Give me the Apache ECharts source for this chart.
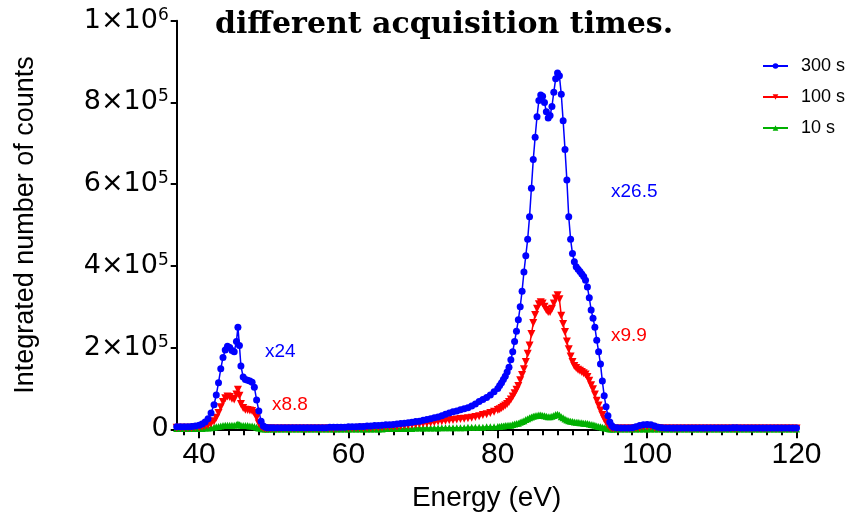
<!DOCTYPE html>
<html><head><meta charset="utf-8">
<script src="https://cdn.jsdelivr.net/npm/echarts@6/dist/echarts.min.js"></script>
<style>html,body{margin:0;padding:0;background:#fff}#c{width:850px;height:522px}</style>
</head><body><div id="c"></div>
<script>
// Energy grid (eV)
const energy = [
  37.0,37.5,38.0,38.5,39.0,39.5,40.0,40.4,40.8,41.2,41.6,42.0,42.3,42.6,42.9,43.2,43.5,43.8,44.1,44.4,44.7,45.0,45.2,45.4,45.6,45.9,46.2,46.5,46.8,47.1,47.4,47.7,48.0,48.3,48.6,48.9,49.2,49.6,
  50,50.5,51,51.5,52,52.5,53,53.5,54,54.5,55,55.5,56,56.5,57,57.5,58,58.5,59,59.5,60,60.5,61,61.5,62,62.5,63,63.5,64,64.5,65,65.5,66,66.5,67,67.5,68,68.5,69,69.5,70,70.5,71,71.5,72,72.5,73,73.5,74,74.5,75,75.5,76,76.5,77,77.5,78,78.5,79,79.5,
  80,80.25,80.5,80.75,81,81.25,81.5,81.75,82,82.25,82.5,82.75,83,83.25,83.5,83.75,84,84.25,84.5,84.75,85,85.25,85.5,85.75,86,86.25,86.5,86.75,87,87.25,87.5,87.75,88,88.25,88.5,88.75,89,89.25,89.5,89.75,90,90.25,90.5,90.75,91,91.25,91.5,91.75,92,92.25,92.5,92.75,93,93.25,93.5,93.75,94,94.25,94.5,94.75,95,95.25,95.5,
  96,96.5,97,97.5,98,98.5,99,99.5,100,100.5,101,101.5,102,102.5,103,103.5,104,104.5,105,105.5,106,106.5,107,107.5,108,108.5,109,109.5,110,110.5,111,111.5,112,112.5,113,113.5,114,114.5,115,115.5,116,116.5,117,117.5,118,118.5,119,119.5,120
];
// Integrated counts, in thousands
const counts300k = [
  6,6,6,6,7,8,10,13,18,26,40,60,84,114,148,176,194,203,200,193,190,215,250,205,155,128,122,120,118,115,103,72,45,20,8,5,4,4,
  4,4,4,4,4,4,4,4,4,4,4,4,4,4,4,5,5,5,5,5,6,6,6,7,7,8,8,9,9,10,11,11,12,13,14,15,16,17,19,20,22,24,26,28,30,33,37,40,43,45,48,50,53,57,62,68,73,78,84,92,
  100,107,114,122,130,140,152,170,190,215,240,268,300,338,385,425,465,520,590,660,715,765,805,818,815,800,777,762,768,790,825,858,872,865,820,755,685,610,520,465,430,410,398,392,386,380,374,365,348,322,292,272,250,218,190,160,118,82,55,33,18,9,5,
  4,3,3,3,4,6,9,11,12,11,8,5,4,3,3,3,3,3,3,3,3,3,3,3,3,3,3,3,3,3,3,4,4,3,3,3,3,3,3,3,3,3,3,3,3,3,3,3,3
];
const counts100k = [
  4,4,4,4,4,5,5,6,8,10,14,20,28,40,54,67,76,80,79,75,73,85,97,82,62,52,48,47,46,45,40,28,14,6,3,2,2,2,
  2,2,2,2,2,2,2,2,2,2,2,2,2,2,2,2,2,3,3,3,3,3,3,4,4,4,4,5,5,5,6,6,7,7,8,9,10,11,12,13,14,15,16,17,19,20,21,22,23,24,25,26,27,28,30,32,35,37,40,43,
  47,49,52,55,58,62,67,73,80,88,97,106,120,133,147,165,185,205,233,260,280,295,306,311,308,300,292,287,287,295,308,320,328,318,278,258,238,215,196,178,165,155,150,146,143,140,137,134,128,119,108,98,85,70,58,46,35,25,17,10,5,3,2,
  2,2,2,2,2,3,4,6,7,6,4,3,2,2,2,2,2,2,2,2,2,2,2,2,2,2,2,2,2,2,2,2,2,2,2,2,2,2,2,2,2,2,2,2,2,2,2,2,2
];
const counts10k = [
  2,2,2,2,2,2,2,2,3,3,4,5,6,7,8,9,10,10,10,10,10,11,13,11,10,9,9,9,8,8,7,5,3,2,1,1,1,1,
  1,1,1,1,1,1,1,1,1,1,1,1,1,1,1,1,1,1,1,1,1,1,1,1,1,1,1,1,1,1,2,2,2,2,2,2,2,2,3,3,3,3,3,3,3,4,4,4,4,4,4,4,5,5,5,5,5,6,6,6,
  7,7,8,8,9,9,10,10,12,13,14,15,17,19,21,24,26,28,30,32,33,34,35,35,34,33,32,31,31,32,34,36,37,35,31,28,25,23,21,20,19,18,17,17,16,16,15,15,14,13,12,11,10,8,7,6,5,4,3,2,1,1,1,
  1,1,1,1,1,1,1,1,1,1,1,1,1,1,1,1,1,1,1,1,1,1,1,1,1,1,1,1,1,1,1,1,1,1,1,1,1,1,1,1,1,1,1,1,1,1,1,1,1
];
const seriesNames = ['300 s','100 s','10 s'];
const xMajorTicks = [40,60,80,100,120];
const xAllTicks = [38,40,42,44,46,48,50,52,54,56,58,60,62,64,66,68,70,72,74,76,78,80,82,84,86,88,90,92,94,96,98,100,102,104,106,108,110,112,114,116,118,120];
const yTicks = [0,200000,400000,600000,800000,1000000];
const yTickBase = ['0','2×10','4×10','6×10','8×10','1×10'];
const yTickExp = ['','5','5','5','5','6'];
const titleText = 'different acquisition times.';
const xName = 'Energy (eV)';
const yName = 'Integrated number of counts';
const annoTexts = ['x24','x8.8','x26.5','x9.9'];

function pairs(vals){ return energy.map((e,i)=>[e, vals[i]*1000]); }

const chart = echarts.init(document.getElementById('c'), null, {renderer:'canvas'});
const font = 'Liberation Sans';
const annoPos = [[265,352,'#0000ff'],[272,405,'#ff0000'],[611,192,'#0000ff'],[611,336,'#ff0000']];
chart.setOption({
  animation:false,
  backgroundColor:'#fff',
  title:{text:titleText,left:215,top:10,padding:0,textStyle:{fontFamily:'DejaVu Serif',fontWeight:'bold',fontSize:30,color:'#000'}},
  legend:{orient:'vertical',left:762,top:57,padding:0,itemWidth:25,itemHeight:7,itemGap:13,
    data:seriesNames,textStyle:{fontFamily:font,fontSize:18,color:'#000',padding:[0,0,0,8]}},
  grid:{left:176.7,right:53.5,top:20.7,bottom:92.7,containLabel:false},
  xAxis:[{type:'value',min:37,max:120,position:'bottom',
      name:xName,nameLocation:'middle',nameGap:55,nameTextStyle:{fontFamily:font,fontSize:28,color:'#000'},
      axisLine:{show:true,lineStyle:{color:'#000',width:2}},
      axisTick:{show:true,inside:false,length:6,lineStyle:{color:'#000',width:2},customValues:xAllTicks},
      axisLabel:{show:true,margin:10,fontFamily:font,fontSize:30,color:'#000',customValues:xMajorTicks},
      splitLine:{show:false}},
    {type:'value',min:37,max:120,position:'bottom',
      axisLine:{show:true,lineStyle:{color:'rgba(0,0,0,0)',width:0}},
      axisTick:{show:true,inside:false,length:9,lineStyle:{color:'#000',width:2},customValues:xMajorTicks},
      axisLabel:{show:false},splitLine:{show:false}}],
  yAxis:{type:'value',min:0,max:1000000,interval:200000,
    name:yName,nameLocation:'middle',nameRotate:90,nameGap:138,nameTextStyle:{fontFamily:font,fontSize:27,color:'#000'},
    axisLine:{show:true,lineStyle:{color:'#000',width:2}},
    axisTick:{show:true,length:6,lineStyle:{color:'#000',width:2}},
    splitLine:{show:false},
    axisLabel:{margin:8,formatter:function(v){const i=yTicks.indexOf(v);if(i<0)return '';return yTickExp[i]?'{b|'+yTickBase[i]+'}{s|'+yTickExp[i]+'}':'{b|'+yTickBase[i]+'}';},
      rich:{b:{fontFamily:'DejaVu Sans',fontSize:27,color:'#000',lineHeight:28},s:{fontFamily:'DejaVu Sans',fontSize:17,color:'#000',verticalAlign:'top',lineHeight:28}}}},
  graphic:annoTexts.map((t,i)=>({type:'text',style:{x:annoPos[i][0],y:annoPos[i][1],text:t,fill:annoPos[i][2],font:'19px "Liberation Sans"',verticalAlign:'middle'}})),
  series:[
    {name:seriesNames[2],type:'line',data:pairs(counts10k),symbol:'triangle',symbolSize:7,color:'#00b000',lineStyle:{width:1.5,color:'#00b000'},itemStyle:{color:'#00b000'}},
    {name:seriesNames[1],type:'line',data:pairs(counts100k),symbol:'triangle',symbolRotate:180,symbolSize:8,color:'#ff0000',lineStyle:{width:1.5,color:'#ff0000'},itemStyle:{color:'#ff0000'}},
    {name:seriesNames[0],type:'line',data:pairs(counts300k),symbol:'circle',symbolSize:7,color:'#0000ff',lineStyle:{width:1.5,color:'#0000ff'},itemStyle:{color:'#0000ff'}}
  ]
});
</script></body></html>
